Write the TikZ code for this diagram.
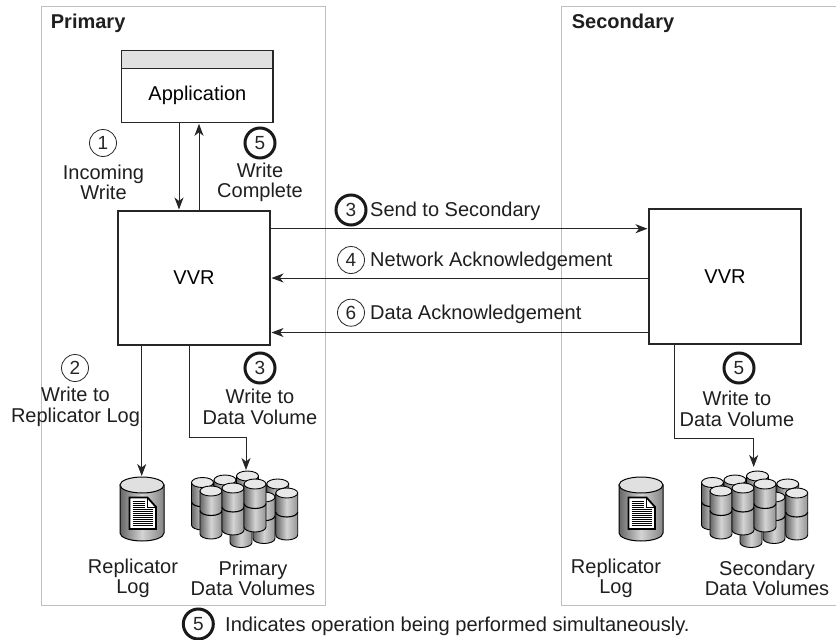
\documentclass[tikz,border=0pt]{standalone}
\usepackage{fontspec}
\usetikzlibrary{arrows.meta}
\setmainfont{Liberation Sans}
\tikzset{
  panel/.style={draw=black!25,line width=0.9pt},
  boxn/.style={draw=black!85,line width=1.4pt,fill=white,inner sep=0pt,outer sep=0pt,font=\fontsize{20}{20}\selectfont,anchor=north west},
  flow/.style={draw=black!85,line width=1pt,shorten >=1.5pt,-{Stealth[length=12pt,width=9pt,inset=3.5pt]}},
  lab/.style={font=\fontsize{20}{20.5}\selectfont,align=center,inner sep=0pt,text=black!88,yshift=-1.5pt},
  title/.style={font=\fontsize{20}{20}\selectfont\bfseries,anchor=west,inner sep=0pt,text=black!88,yshift=-1pt},
  thinnum/.style={circle,draw=black!85,line width=0.8pt,minimum size=27pt,inner sep=0pt,font=\fontsize{19}{19}\selectfont,fill=white,text=black!85},
  thicknum/.style={circle,draw=black!90,line width=3pt,minimum size=30pt,inner sep=0pt,font=\fontsize{19}{19}\selectfont,fill=white,text=black!85},
}
\newcommand{\volcyl}[3]{% centre x, top y, bottom y
  \path[draw=black,line width=0.9pt,left color=black!60,right color=black!42,middle color=black!17]
    ({#1-11},#2) -- ({#1-11},#3) arc[start angle=180,end angle=0,x radius=11,y radius=5] -- ({#1+11},#2) -- cycle;
  \draw[black,line width=1.1pt] ({#1-11},{(#2+#3)/2-2}) arc[start angle=180,end angle=0,x radius=11,y radius=5];
  \draw[black,line width=0.9pt,fill=black!9] (#1,#2) ellipse[x radius=11,y radius=5];
}
\newcommand{\volset}[2]{%
 \begin{scope}[shift={(#1,#2)}]
  \volcyl{202.5}{482.5}{525}
  \volcyl{225}{480}{522}
  \volcyl{247.5}{476}{518}
  \volcyl{277.7}{484}{526}
  \volcyl{264}{497}{538.5}
  \volcyl{241}{500}{542.5}
  \volcyl{211}{491}{534}
  \volcyl{233}{488}{530}
  \volcyl{255}{484}{527}
  \volcyl{286.7}{493}{535}
 \end{scope}
}
\newcommand{\logcyl}[2]{%
 \begin{scope}[shift={(#1,#2)}]
  \path[draw=black,line width=1pt,left color=black!60,right color=black!48,middle color=black!17]
    (120,485) -- (120,533) arc[start angle=180,end angle=0,x radius=22,y radius=8] -- (164,485) -- cycle;
  \draw[black,line width=1pt,fill=black!12] (142,485) ellipse[x radius=22,y radius=8];
  \draw[black,line width=1.8pt,fill=white] (129.5,497.5) -- (147.5,497.5) -- (156,507) -- (156,529) -- (129.5,529) -- cycle;
  \draw[black,line width=0.8pt] (147.5,497.5) -- (147.5,507) -- (156,507);
  \foreach \yy in {501,503,505,507} \draw[black,line width=0.6pt] (132.5,\yy) -- (145,\yy);
  \foreach \yy in {509.5,511.5,513.5,515.5,517.5,519.5,521.5,523.5,525.5} \draw[black,line width=0.6pt] (132.5,\yy) -- (153,\yy);
 \end{scope}
}
\begin{document}
\begin{tikzpicture}[x=1pt,y=-1pt]
\useasboundingbox (0,0) rectangle (836,640);
\fill[white] (0,0) rectangle (836,640);
% panels
\draw[panel] (41.5,6) rectangle (325,605.5);
\draw[panel] (836,6) -- (561.7,6) -- (561.7,605.5) -- (836,605.5);
\node[title] (ptitle) at (50.7,22) {Primary};
\node[title] (stitle) at (571.7,22) {Secondary};
% boxes
\node[boxn,minimum width=151.3pt,minimum height=17.6pt,fill=black!12] (apphead) at (121.7,50.7) {};
\node[boxn,minimum width=151.3pt,minimum height=54pt] (app) at (121.7,68.3) {Application};
\node[boxn,minimum width=152pt,minimum height=134pt] (vvrp) at (118,211) {VVR};
\node[boxn,minimum width=152pt,minimum height=135pt] (vvrs) at (649,209) {VVR};
% storage
\logcyl{0}{0}
\logcyl{499}{0}
\volset{0}{0}
\volset{510}{0}
\coordinate (logp) at (141.7,476);
\coordinate (volp) at (246,470);
\coordinate (vols) at (753.7,467);
\coordinate (ax1) at (179,0);
\coordinate (ax2) at (199,0);
\coordinate (ay1) at (0,228.7);
\coordinate (ay2) at (0,278);
\coordinate (ay3) at (0,332.5);
\coordinate (bx1) at (189.7,0);
\coordinate (bx2) at (674,0);
% arrows
\draw[flow] (ax1 |- app.south) -- (ax1 |- vvrp.north);
\draw[flow] (ax2 |- vvrp.north) -- (ax2 |- app.south);
\draw[flow] (vvrp.east |- ay1) -- (vvrs.west |- ay1);
\draw[flow] (vvrs.west |- ay2) -- (vvrp.east |- ay2);
\draw[flow] (vvrs.west |- ay3) -- (vvrp.east |- ay3);
\draw[flow,shorten >=0pt] (logp |- vvrp.south) -- (logp);
\draw[flow,shorten >=0pt] (bx1 |- vvrp.south) |- (246,437) -- (volp);
\draw[flow,shorten >=0pt] (bx2 |- vvrs.south) |- (753.7,438) -- (vols);
% labels
\node[thinnum] (n1) at (103,143) {1};
\node[lab] (l1) at (103.5,181) {Incoming\\Write};
\node[thicknum] (n5a) at (260,143) {5};
\node[lab] (l5a) at (260,181) {Write\\Complete};
\node[thicknum] (n3a) at (351,210) {3};
\node[lab,anchor=west] (l3a) at (370,210) {Send to Secondary};
\node[thinnum] (n4) at (351,260) {4};
\node[lab,anchor=west] (l4) at (370,260) {Network Acknowledgement};
\node[thinnum] (n6) at (351,312.7) {6};
\node[lab,anchor=west] (l6) at (370,312.7) {Data Acknowledgement};
\node[thinnum] (n2) at (75,368) {2};
\node[lab] (l2) at (75.5,405.5) {Write to\\Replicator Log};
\node[thicknum] (n3b) at (260,368) {3};
\node[lab] (l3b) at (260,405.5) {Write to\\Data Volume};
\node[thicknum] (n5b) at (739,368) {5};
\node[lab] (l5b) at (737,407.5) {Write to\\Data Volume};
\node[lab] (t1) at (133,577) {Replicator\\Log};
\node[lab] (t2) at (253,577) {Primary\\Data Volumes};
\node[lab] (t3) at (616,577) {Replicator\\Log};
\node[lab] (t4) at (767,577) {Secondary\\Data Volumes};
\node[thicknum] (n5c) at (198.3,624) {5};
\node[lab,anchor=west,font=\fontsize{20.1}{20.5}\selectfont] (foot) at (225,624.5) {Indicates operation being performed simultaneously.};
\end{tikzpicture}
\end{document}
